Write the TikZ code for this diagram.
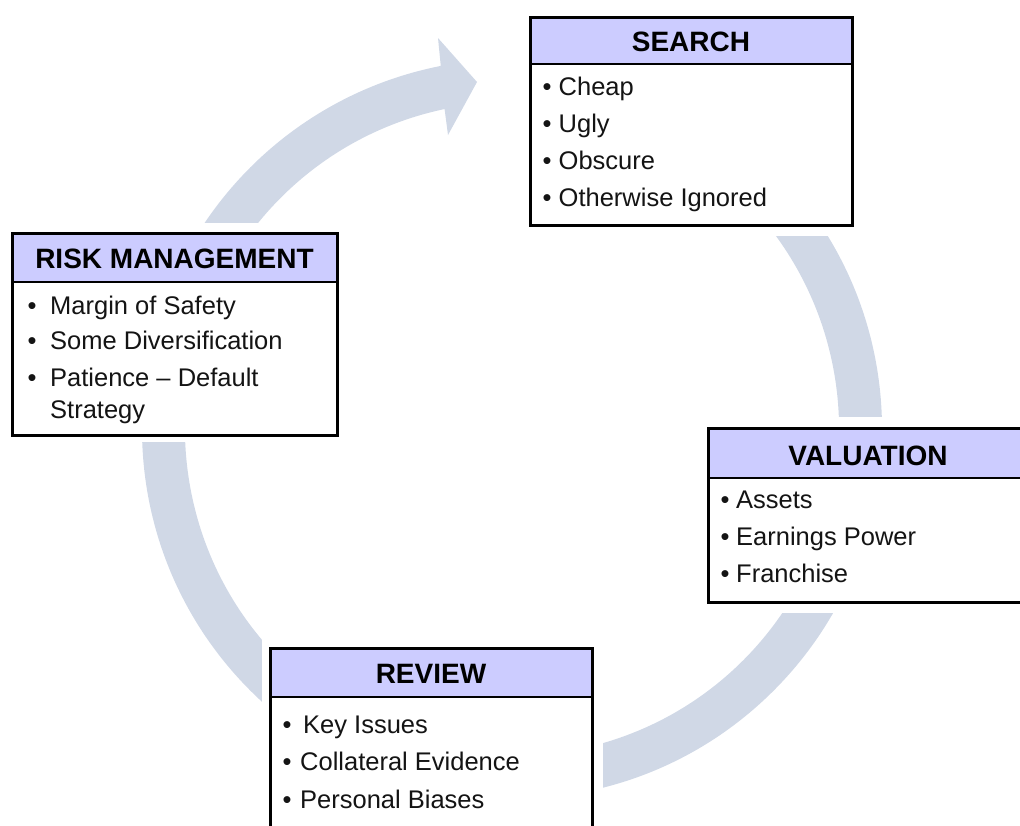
\documentclass[tikz,border=0pt]{standalone}
\usepackage{fontspec}
\setmainfont{Liberation Sans}
\usetikzlibrary{calc}
\definecolor{ringblue}{HTML}{D0D8E6}
\definecolor{headfill}{HTML}{CCCCFF}
\definecolor{inktext}{HTML}{141414}
\begin{document}
\begin{tikzpicture}[x=1pt,y=-1pt,
  panel/.style={rectangle, fill=white, inner sep=0pt, outer sep=0pt, anchor=north west},
  header/.style={rectangle, fill=headfill, draw=black, line width=2pt, inner sep=0pt, outer sep=0pt, anchor=north west},
  frame/.style={draw=black, line width=3pt},
  gap/.style={fill=white},
  title/.style={inner sep=0pt, anchor=base, font=\fontsize{28}{28}\selectfont\bfseries, text=black},
  item/.style={inner sep=0pt, anchor=base west, font=\fontsize{25.5}{25.5}\selectfont, text=inktext},
  dot/.style={inner sep=0pt, anchor=base, font=\fontsize{25.5}{25.5}\selectfont, text=inktext}]

\clip (0,0) rectangle (1020,825);

% circular process arrow
\coordinate (c) at (512,429);
\coordinate (barbout) at (438,38);
\coordinate (tip) at (477,82);
\coordinate (barbin) at (448,135);
\fill[ringblue] ($(c)+(-45:370)$) arc[start angle=-45, end angle=258.9, radius=370]
  -- (barbout) -- (tip) -- (barbin)
  -- ($(c)+(258.1:327)$) arc[start angle=258.1, end angle=-45, radius=327] -- cycle;

% white margins around the stage boxes
\fill[gap] (519,6) rectangle (863,236);
\fill[gap] (2,223) rectangle (347,442);
\fill[gap] (697,417) rectangle (1030,613);
\fill[gap] (262,638) rectangle (603,840);

% SEARCH
\node[panel, minimum width=322pt, minimum height=208pt] (search) at (530,17) {};
\node[header, minimum width=322pt, minimum height=47pt] (searchhd) at (530,17) {};
\draw[frame] (search.north west) rectangle (search.south east);
\node[title] (searchtt) at (691,51.5) {SEARCH};
\foreach \t/\y [count=\k] in {Cheap/95, Ugly/132, Obscure/169, Otherwise Ignored/206} {
  \node[dot] (searchdot\k) at (547,\y) {\textbullet};
  \node[item] (searchitem\k) at (558.5,\y) {\t};
}

% RISK MANAGEMENT
\node[panel, minimum width=325pt, minimum height=202pt] (risk) at (12,233) {};
\node[header, minimum width=325pt, minimum height=49pt] (riskhd) at (12,233) {};
\draw[frame] (risk.north west) rectangle (risk.south east);
\node[title] (risktt) at (174.5,268) {RISK MANAGEMENT};
\foreach \t/\y [count=\k] in {Margin of Safety/314, Some Diversification/349, Patience \textendash\ Default/386} {
  \node[dot] (riskdot\k) at (32,\y) {\textbullet};
  \node[item] (riskitem\k) at (50,\y) {\t};
}
\node[item] (riskitem4) at (50,418) {Strategy};

% VALUATION
\node[panel, minimum width=320pt, minimum height=174pt] (valuation) at (708,428) {};
\node[header, minimum width=320pt, minimum height=50pt] (valuationhd) at (708,428) {};
\draw[frame] (valuation.north west) rectangle (valuation.south east);
\node[title] (valuationtt) at (868,465) {VALUATION};
\foreach \t/\y [count=\k] in {Assets/508, Earnings Power/545, Franchise/582} {
  \node[dot] (valuationdot\k) at (725,\y) {\textbullet};
  \node[item] (valuationitem\k) at (736,\y) {\t};
}

% REVIEW
\node[panel, minimum width=322pt, minimum height=200pt] (review) at (270,648) {};
\node[header, minimum width=322pt, minimum height=49pt] (reviewhd) at (270,648) {};
\draw[frame] (review.north west) rectangle (review.south east);
\node[title] (reviewtt) at (431,683) {REVIEW};
\foreach \t/\x/\y [count=\k] in {Key Issues/303/733, Collateral Evidence/300/770, Personal Biases/300/808} {
  \node[dot] (reviewdot\k) at (287,\y) {\textbullet};
  \node[item] (reviewitem\k) at (\x,\y) {\t};
}
\end{tikzpicture}
\end{document}
